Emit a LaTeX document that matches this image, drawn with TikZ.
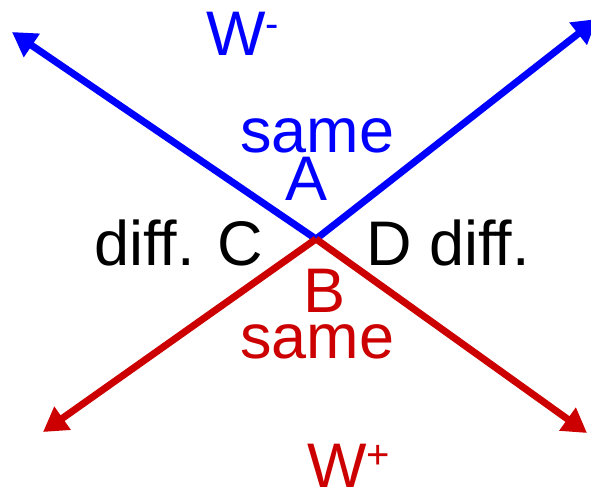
\documentclass[tikz,border=0pt]{standalone}
\usepackage{fontspec}
\setmainfont{Liberation Sans}
\usetikzlibrary{arrows.meta}
\definecolor{wblue}{RGB}{0,0,255}
\definecolor{wred}{RGB}{204,0,0}
\tikzset{
  lbl/.style={inner sep=0pt, anchor=base west, font=\fontsize{63}{70}\selectfont},
  arr/.style={line width=7pt, -{Triangle[length=24pt,width=27pt]}},
}
\newcommand{\supmark}[2]{\raisebox{#1}{\fontsize{40}{42}\selectfont #2}}
\begin{document}
\begin{tikzpicture}[x=1pt,y=-1pt]
\useasboundingbox (0,0) rectangle (591,488);
\coordinate (o) at (316,239);
\coordinate (bl) at (12,32);
\coordinate (br) at (597,19);
\coordinate (rl) at (43,432);
\coordinate (rr) at (587,433);
\draw[arr, wblue] (o) -- (bl);
\draw[arr, wblue] (o) -- (br);
\draw[arr, wred] (o) -- (rl);
\draw[arr, wred] (o) -- (rr);
\node[lbl, text=wblue] (wminus) at (206,55) {W\supmark{18pt}{-}};
\node[lbl, text=wblue] (sameA) at (240,152) {same};
\node[lbl, text=wblue] (A) at (285,200) {A};
\node[lbl] (C) at (94,265) {diff. C};
\node[lbl] (D) at (366,265) {D diff.};
\node[lbl, text=wred] (B) at (303,312) {B};
\node[lbl, text=wred] (sameB) at (240,358) {same};
\node[lbl, text=wred] (wplus) at (307,487) {W\supmark{19pt}{+}};
\end{tikzpicture}
\end{document}
